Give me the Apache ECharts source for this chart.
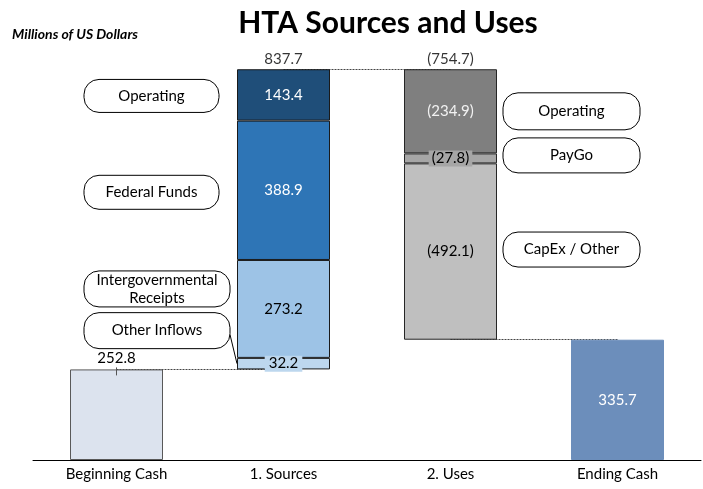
<!DOCTYPE html>
<html>
<head>
<meta charset="utf-8">
<title>HTA Sources and Uses</title>
<script src="https://cdn.jsdelivr.net/npm/echarts@6/dist/echarts.min.js"></script>
<style>
    body { margin: 0; background: #fff; }
    #divChart { width: 703px; height: 489px; }
</style>
</head>
<body>
<div id="divChart"></div>
<script>
// 数据
var categories = ['Beginning Cash', '1. Sources', '2. Uses', 'Ending Cash'];
var beginningCash = 252.8;
var endingCash = 335.7;
// sources, bottom -> top
var sourceNames = ['Other Inflows', 'Intergovernmental\nReceipts', 'Federal Funds', 'Operating'];
var sourceValues = [32.2, 273.2, 388.9, 143.4];
var sourcesTotal = 837.7;
// uses, bottom -> top
var useNames = ['CapEx / Other', 'PayGo', 'Operating'];
var useValues = [492.1, 27.8, 234.9];
var usesTotal = 754.7;

var FONT = 'Lato, "Open Sans", sans-serif';
var FS = 15;
var sourceColors = ['#BDD7EE', '#9DC3E6', '#2E75B6', '#1F4E79'];
var sourceLabelColors = ['#000', '#000', '#fff', '#fff'];
var useColors = ['#BFBFBF', '#A6A6A6', '#7F7F7F'];
var useLabelColors = ['#000', '#000', '#f2f2f2'];

var chart = echarts.init(document.getElementById('divChart'));

var sourcesTop = beginningCash;
sourceValues.forEach(function (v) { sourcesTop += v; });

function only(idx, v) {
    var arr = ['-', '-', '-', '-'];
    arr[idx] = v;
    return arr;
}

var series = [];
// invisible base for the floating bars
series.push({
    name: 'base', type: 'bar', stack: 'total', silent: true,
    itemStyle: { color: 'transparent', borderColor: 'transparent' },
    data: ['-', beginningCash, endingCash, '-'],
    markLine: {
        z: 1, silent: true, symbol: ['none', 'none'],
        label: { show: false },
        lineStyle: { color: '#444', type: [2, 1], width: 1 },
        data: [
            [{ coord: [categories[0], beginningCash] }, { coord: [categories[1], beginningCash] }],
            [{ coord: [categories[1], sourcesTop] }, { coord: [categories[2], sourcesTop] }],
            [{ coord: [categories[2], endingCash] }, { coord: [categories[3], endingCash] }]
        ]
    }
});
series.push({
    name: 'Beginning Cash', type: 'bar', stack: 'total',
    itemStyle: { color: '#DCE3EE', borderColor: '#595959', borderWidth: 1 },
    label: { show: true, position: 'top', distance: 4, color: '#000', fontSize: FS, fontFamily: FONT },
    data: only(0, beginningCash)
});
sourceValues.forEach(function (v, i) {
    var lbl = { show: true, position: 'inside', color: sourceLabelColors[i], fontSize: FS, fontFamily: FONT };
    if (i === 0) {
        lbl.backgroundColor = sourceColors[0];
        lbl.padding = [1, 4, 0, 4];
    }
    series.push({
        name: sourceNames[i], type: 'bar', stack: 'total',
        itemStyle: { color: sourceColors[i], borderColor: '#1a1a1a', borderWidth: 1 },
        label: lbl,
        data: only(1, v)
    });
});
useValues.forEach(function (v, i) {
    var lbl = {
        show: true, position: 'inside', color: useLabelColors[i], fontSize: FS, fontFamily: FONT,
        formatter: function (p) { return '(' + p.value.toFixed(1) + ')'; }
    };
    if (i === 1) {
        lbl.backgroundColor = useColors[1];
        lbl.padding = [1, 3, 0, 3];
    }
    series.push({
        name: useNames[i], type: 'bar', stack: 'total',
        itemStyle: { color: useColors[i], borderColor: '#262626', borderWidth: 1 },
        label: lbl,
        data: only(2, v)
    });
});
series.push({
    name: 'Ending Cash', type: 'bar', stack: 'total',
    itemStyle: { color: '#6C8EBB', borderColor: '#6C8EBB', borderWidth: 1 },
    label: { show: true, position: 'inside', color: '#fff', fontSize: FS, fontFamily: FONT },
    data: only(3, endingCash)
});
// totals above bars
series.push({
    name: 'totals', type: 'scatter', symbolSize: 0, silent: true,
    label: {
        show: true, position: 'top', distance: 3, color: '#000', fontSize: FS, fontFamily: FONT,
        formatter: function (p) { return p.data[2]; }
    },
    data: [
        [categories[1], sourcesTop, sourcesTotal.toFixed(1)],
        [categories[2], sourcesTop, '(' + usesTotal.toFixed(1) + ')']
    ]
});
series.forEach(function (s) { if (s.type === 'bar') s.barWidth = 93; });

var option = {
    animation: false,
    title: [{
        text: 'HTA Sources and Uses', left: 383, top: 3, textAlign: 'center',
        textStyle: { fontSize: 30, fontWeight: 'bold', fontFamily: FONT, color: '#000' }
    }, {
        text: 'Millions of US Dollars', left: 7, top: 22,
        textStyle: { fontSize: 14, fontWeight: 'bold', fontStyle: 'italic', fontFamily: FONT, color: '#000' }
    }],
    grid: { left: 33, right: 2, top: 30, bottom: 29 },
    xAxis: {
        type: 'category', data: categories,
        axisLine: { lineStyle: { color: '#000', width: 1 } },
        axisTick: { show: false },
        axisLabel: { color: '#000', fontSize: FS, fontFamily: FONT, margin: 7 }
    },
    yAxis: { type: 'value', min: 0, max: 1200, show: false, splitLine: { show: false } },
    series: series
};
chart.setOption(option);

// callout boxes
var callouts = [];
var srcDx = [-199.5, -199.5, -199.5, -199.5];
var srcW = [146, 146, 135, 135];
var srcDy = [-33, -20, 2, 1];
var srcH = [36, 36, 34, 33];
var acc = beginningCash;
sourceValues.forEach(function (v, i) {
    var mid = acc + v / 2;
    acc += v;
    callouts.push({ text: sourceNames[i], cat: 1, value: mid, dx: srcDx[i], w: srcW[i], dy: srcDy[i], h: srcH[i], leader: i === 0 });
});
acc = endingCash;
var useDy = [-2, -3, 0];
var useH = [35, 35, 37];
useValues.forEach(function (v, i) {
    var mid = acc + v / 2;
    acc += v;
    callouts.push({ text: useNames[i], cat: 2, value: mid, dx: 52.5, w: 137, dy: useDy[i], h: useH[i] });
});

var graphics = [];
callouts.forEach(function (c) {
    var pt = chart.convertToPixel({ xAxisIndex: 0, yAxisIndex: 0 }, [categories[c.cat], c.value]);
    var x = pt[0] + c.dx;
    var cy = pt[1] + c.dy;
    graphics.push({
        type: 'rect', z: 10,
        shape: { x: x, y: cy - c.h / 2, width: c.w, height: c.h, r: 15 },
        style: { fill: '#fff', stroke: '#000', lineWidth: 1 }
    });
    graphics.push({
        type: 'text', z: 11,
        x: x + c.w / 2, y: cy,
        style: {
            text: c.text, fill: '#000', fontSize: FS, fontFamily: FONT, lineHeight: 18,
            align: 'center', verticalAlign: 'middle'
        }
    });
    if (c.leader) {
        graphics.push({
            type: 'line', z: 9,
            shape: { x1: x + c.w, y1: cy + 4, x2: pt[0] - 46.5, y2: pt[1] },
            style: { stroke: '#000', lineWidth: 1 }
        });
    }
});
// small tick under the beginning cash label
var bp = chart.convertToPixel({ xAxisIndex: 0, yAxisIndex: 0 }, [categories[0], beginningCash]);
graphics.push({
    type: 'line', z: 9,
    shape: { x1: bp[0], y1: bp[1] - 2, x2: bp[0], y2: bp[1] + 6 },
    style: { stroke: '#555', lineWidth: 1 }
});
chart.setOption({ graphic: graphics });
</script>
</body>
</html>
